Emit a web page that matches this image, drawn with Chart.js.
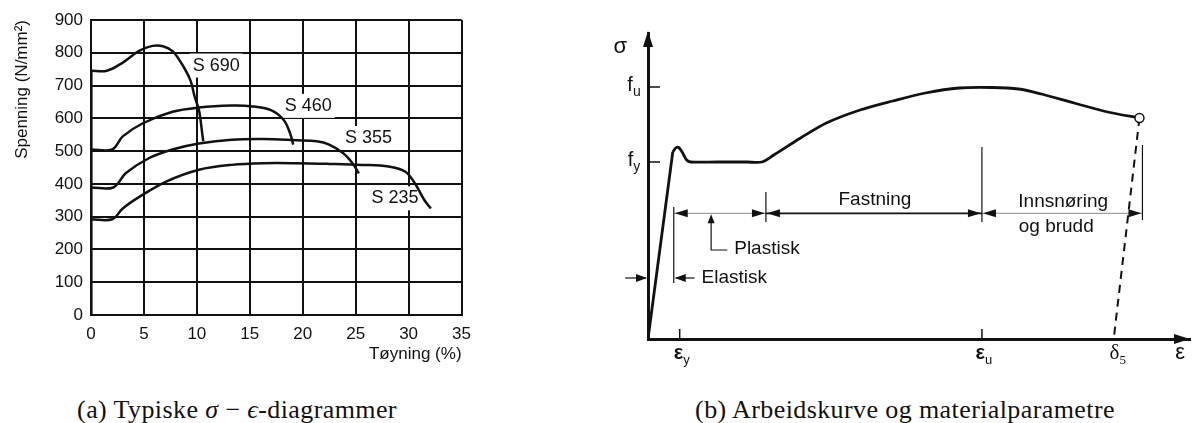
<!DOCTYPE html>
<html>
<head>
<meta charset="utf-8">
<script src="https://cdn.jsdelivr.net/npm/chart.js@4.4.0/dist/chart.umd.min.js"></script>
<style>
  html, body { margin: 0; padding: 0; background: #fff; }
  body { width: 1196px; height: 423px; position: relative; overflow: hidden; }
  .box { position: absolute; top: 0; height: 370px; }
  #left { left: 0; width: 480px; }
  #right { left: 590px; width: 606px; }
  .cap { position: absolute; top: 397px; transform: translateX(-50%); font-family: "Liberation Serif", serif;
         font-size: 26px; letter-spacing: 0.4px; line-height: 1; color: #111; white-space: nowrap; }
</style>
</head>
<body>
<div class="box" id="left"><canvas id="stressStrain"></canvas></div>
<div class="box" id="right"><canvas id="workCurve"></canvas></div>
<div class="cap" style="left:237px">(a) Typiske <i>σ</i> − <i>ϵ</i>-diagrammer</div>
<div class="cap" style="left:905px">(b) Arbeidskurve og materialparametre</div>

<script>
// ---- (a) typical stress-strain curves, strain in %, stress in N/mm2
const elasticStrain = [0, 0];
const elasticStress = [0, 745];

const s690Strain = [0, 1.5, 3, 4.5, 5.8, 6.8, 7.7, 8.6, 9.4, 9.8, 10.2, 10.5, 10.6];
const s690Stress = [745, 745, 770, 805, 821, 820, 805, 765, 715, 665, 625, 555, 530];

const s460Strain = [0, 2, 3, 4.9, 7.7, 10.2, 13.3, 15.1, 17, 18.2, 18.8, 19.1];
const s460Stress = [505, 505, 545, 585, 620, 633, 639, 637, 625, 595, 555, 520];

const s355Strain = [0, 2.1, 3.3, 5.5, 7.7, 10.2, 13.3, 16.3, 19.4, 21.3, 22.5, 23.8, 24.7, 25.3];
const s355Stress = [389, 389, 433, 479, 505, 523, 535, 537, 533, 530, 520, 494, 463, 432];

const s235Strain = [0, 2, 3, 4.6, 7.1, 10.2, 13.3, 16.3, 19.4, 22.5, 25.6, 28.1, 29.7, 30.6, 31.5, 32.1];
const s235Stress = [292, 292, 325, 361, 407, 443, 458, 463, 463, 461, 458, 453, 437, 401, 350, 325];

const gradeNames = ['S 690', 'S 460', 'S 355', 'S 235'];
const gradeLabelStrain = [9.6, 18.3, 24.0, 26.5];
const gradeLabelStress = [761, 638, 540, 356];

// ---- (b) schematic working curve (arbitrary units)
const elasticPartStrain = [0, 25];
const elasticPartStress = [0, 187];
const curveStrain = [25, 28, 31, 35, 39, 43, 70, 100, 115, 127, 154, 180, 214, 247, 280, 314, 347, 374, 397, 430, 464, 496];
const curveStress = [187, 191, 191.5, 186, 179, 177, 177, 177, 177, 184, 201, 216, 229, 238, 246, 251, 251.5, 250, 245, 236, 227, 221];
const unloadStrain = [496, 470];
const unloadStress = [221, 0];

const strainMarks = [32, 337, 472];
const strainMarkNames = [['ε', 'y'], ['ε', 'u'], ['δ', '5']];
const stressMarks = [177, 252];
const stressMarkNames = [['f', 'y'], ['f', 'u']];

const zoneStops = [26, 119, 337, 499];
const zoneLevel = 125.7;
const markerLow = [56, 117, 117, 119];
const markerHigh = [132, 147, 192, 194];

const INK = '#111';
Chart.defaults.font.family = '"Liberation Sans", Arial, sans-serif';
Chart.defaults.color = INK;

function series(xs, ys, extra) {
  return Object.assign({
    data: xs.map((x, i) => ({ x: x, y: ys[i] })),
    showLine: true, borderColor: INK, borderWidth: 2.5, pointRadius: 0, tension: 0.35, fill: false
  }, extra || {});
}

// labels S 690 ... with white box behind them (the grid is broken there)
const gradeLabels = {
  id: 'gradeLabels',
  beforeDatasetsDraw(chart) {
    const ctx = chart.ctx, xs = chart.scales.x, ys = chart.scales.y;
    ctx.save();
    ctx.font = '18px "Liberation Sans", Arial, sans-serif';
    ctx.textBaseline = 'middle';
    gradeNames.forEach((name, i) => {
      const px = xs.getPixelForValue(gradeLabelStrain[i]);
      const py = ys.getPixelForValue(gradeLabelStress[i]);
      const w = ctx.measureText(name).width;
      ctx.fillStyle = '#fff';
      ctx.fillRect(px - 3, py - 12, w + 6, 24);
      ctx.fillStyle = INK;
      ctx.fillText(name, px, py);
    });
    ctx.restore();
  }
};

new Chart(document.getElementById('stressStrain'), {
  type: 'scatter',
  data: {
    datasets: [
      series(elasticStrain, elasticStress, { borderWidth: 3.2, tension: 0 }),
      series(s690Strain, s690Stress),
      series(s460Strain, s460Stress),
      series(s355Strain, s355Stress),
      series(s235Strain, s235Stress)
    ]
  },
  options: {
    responsive: true, maintainAspectRatio: false, animation: false,
    layout: { padding: { top: 20, right: 16, left: 0, bottom: 0 } },
    plugins: { legend: { display: false }, tooltip: { enabled: false } },
    scales: {
      x: {
        type: 'linear', min: 0, max: 35,
        ticks: { stepSize: 5, padding: 9, font: { size: 17 } },
        grid: { color: INK, lineWidth: 2, drawTicks: false },
        border: { color: INK, width: 2 },
        title: { display: true, text: 'Tøyning (%)', align: 'end', font: { size: 17 }, padding: { top: 0, bottom: 5 } },
        afterFit: s => { s.height = 55; }
      },
      y: {
        min: 0, max: 900,
        ticks: { stepSize: 100, padding: 8, font: { size: 17 } },
        grid: { color: INK, lineWidth: 2, drawTicks: false },
        border: { color: INK, width: 2 },
        title: { display: true, text: 'Spenning (N/mm²)', align: 'end', font: { size: 17 }, padding: { top: 12, bottom: 0 } },
        afterFit: s => { s.width = 91; }
      }
    }
  },
  plugins: [gradeLabels]
});

// ---- drawing helpers for (b)
function arrowHead(ctx, x, y, dir, len, half) {
  const d = { left: [-1, 0], right: [1, 0], up: [0, -1], down: [0, 1] }[dir];
  ctx.beginPath();
  ctx.moveTo(x, y);
  ctx.lineTo(x - d[0] * len - d[1] * half, y - d[1] * len - d[0] * half);
  ctx.lineTo(x - d[0] * len + d[1] * half, y - d[1] * len + d[0] * half);
  ctx.closePath();
  ctx.fill();
}

function subText(ctx, main, sub, cx, cy, mainFont, subFont) {
  ctx.font = mainFont;
  const wm = ctx.measureText(main).width;
  ctx.font = subFont;
  const ws = ctx.measureText(sub).width;
  const x0 = cx - (wm + ws) / 2;
  ctx.textAlign = 'left';
  ctx.textBaseline = 'alphabetic';
  ctx.font = mainFont;
  ctx.fillText(main, x0, cy + 6);
  ctx.font = subFont;
  ctx.fillText(sub, x0 + wm, cy + 11);
}

const schematic = {
  id: 'schematic',
  afterDraw(chart) {
    const ctx = chart.ctx, xs = chart.scales.x, ys = chart.scales.y;
    const a = chart.chartArea;
    const X = v => xs.getPixelForValue(v), Y = v => ys.getPixelForValue(v);
    ctx.save();
    ctx.fillStyle = INK;
    ctx.strokeStyle = INK;

    // axis arrows
    arrowHead(ctx, a.left, a.top - 2, 'up', 16, 5);
    arrowHead(ctx, a.right, a.bottom, 'right', 16, 5);

    // tick marks
    ctx.lineWidth = 1.5;
    xs.ticks.forEach(t => {
      if (t.value === strainMarks[2]) return;
      ctx.beginPath(); ctx.moveTo(X(t.value), a.bottom); ctx.lineTo(X(t.value), a.bottom - 10); ctx.stroke();
    });
    ys.ticks.forEach(t => {
      ctx.beginPath(); ctx.moveTo(a.left, Y(t.value)); ctx.lineTo(a.left + 12, Y(t.value)); ctx.stroke();
    });

    // tick labels with subscripts
    strainMarks.forEach((v, i) => {
      const n = strainMarkNames[i];
      const serif = n[0] === 'δ';
      subText(ctx, n[0], n[1], X(v) + 2, a.bottom + 14,
        serif ? '21px "Liberation Serif", serif' : 'bold 20px "Liberation Sans", Arial, sans-serif',
        serif ? '13px "Liberation Serif", serif' : '13px "Liberation Sans", Arial, sans-serif');
    });
    stressMarks.forEach((v, i) => {
      const n = stressMarkNames[i];
      subText(ctx, n[0], n[1], a.left - 14, Y(v) - 2, '20px "Liberation Sans", Arial, sans-serif', '14px "Liberation Sans", Arial, sans-serif');
    });

    // axis names
    ctx.textAlign = 'center'; ctx.textBaseline = 'middle';
    ctx.font = '22px "Liberation Sans", Arial, sans-serif';
    ctx.fillText('σ', X(-28), Y(292));
    ctx.fillText('ε', X(537), Y(-14));

    // zone arrows
    for (let i = 0; i < zoneStops.length - 1; i++) {
      arrowHead(ctx, X(zoneStops[i]) + 1, Y(zoneLevel), 'left', 13, 4);
      arrowHead(ctx, X(zoneStops[i + 1]) - 1, Y(zoneLevel), 'right', 13, 4);
    }
    arrowHead(ctx, X(63.7), Y(zoneLevel) + 1, 'up', 9, 3.5);
    arrowHead(ctx, X(0) - 1, Y(61), 'right', 11, 4);
    arrowHead(ctx, X(26) + 1, Y(61), 'left', 11, 4);

    // zone names
    ctx.font = '19px "Liberation Sans", Arial, sans-serif';
    ctx.textAlign = 'center';
    ctx.fillText('Fastning', X(229), Y(139));
    ctx.fillText('Innsnøring', X(419), Y(137));
    ctx.fillText('og brudd', X(412), Y(112));
    ctx.textAlign = 'left';
    ctx.fillText('Plastisk', X(87), Y(90));
    ctx.fillText('Elastisk', X(54), Y(61));
    ctx.restore();
  }
};

const thin = { borderWidth: 1.2, tension: 0 };
const zoneStyles = [
  { borderColor: '#8a8a8a', borderWidth: 1 },
  { borderColor: INK, borderWidth: 1.8 },
  { borderColor: '#8a8a8a', borderWidth: 1 }
];

const workSets = [
  series(elasticPartStrain, elasticPartStress, { borderWidth: 2.8, tension: 0 }),
  series(curveStrain, curveStress, {
    borderWidth: 2.8, tension: 0.3,
    pointRadius: c => (c.dataIndex === curveStrain.length - 1 ? 4.5 : 0),
    pointBackgroundColor: '#fff', pointBorderColor: INK, pointBorderWidth: 1.5
  }),
  series(unloadStrain, unloadStress, { borderWidth: 2, borderDash: [8, 6], tension: 0 })
];
zoneStops.forEach((x, i) => workSets.push(series([x, x], [markerLow[i], markerHigh[i]], thin)));
for (let i = 0; i < zoneStops.length - 1; i++) {
  workSets.push(series([zoneStops[i], zoneStops[i + 1]], [zoneLevel, zoneLevel], Object.assign({ tension: 0 }, zoneStyles[i])));
}
workSets.push(series([80, 63.7, 63.7], [89, 89, 118], thin));
workSets.push(series([-23, -2], [61, 61], Object.assign({ clip: false }, thin)));
workSets.push(series([28, 47], [61, 61], thin));

new Chart(document.getElementById('workCurve'), {
  type: 'scatter',
  data: { datasets: workSets },
  options: {
    responsive: true, maintainAspectRatio: false, animation: false,
    layout: { padding: { top: 33, right: 1, left: 0, bottom: 0 } },
    plugins: { legend: { display: false }, tooltip: { enabled: false } },
    scales: {
      x: {
        type: 'linear', min: 0, max: 547,
        afterBuildTicks: s => { s.ticks = strainMarks.map(v => ({ value: v })); },
        ticks: { display: false },
        grid: { display: false },
        border: { color: INK, width: 3 },
        afterFit: s => { s.height = 31; }
      },
      y: {
        min: 0, max: 306,
        afterBuildTicks: s => { s.ticks = stressMarks.map(v => ({ value: v })); },
        ticks: { display: false },
        grid: { display: false },
        border: { color: INK, width: 3 },
        afterFit: s => { s.width = 58; }
      }
    }
  },
  plugins: [schematic]
});
</script>
</body>
</html>
